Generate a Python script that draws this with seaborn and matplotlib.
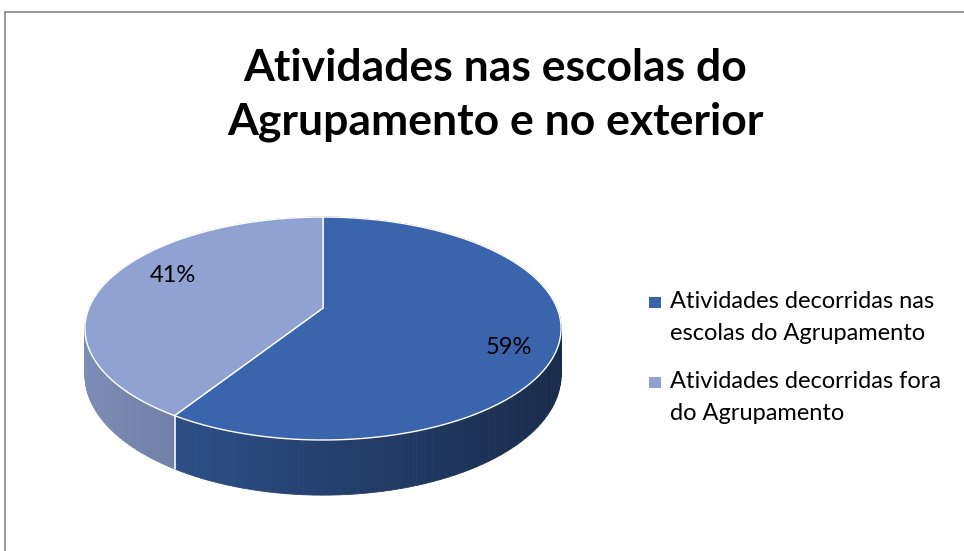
import numpy as np
import matplotlib
matplotlib.use("Agg")
import matplotlib.pyplot as plt
import seaborn as sns
from matplotlib.patches import Polygon, Rectangle
from matplotlib.lines import Line2D

# --- dados ---
categorias = ['Atividades decorridas nas\nescolas do Agrupamento',
              'Atividades decorridas fora\ndo Agrupamento']
valores = [59, 41]
rotulos = ['59%', '41%']
titulo = 'Atividades nas escolas do\nAgrupamento e no exterior'

sns.set_theme(style='white')
plt.rcParams['font.family'] = ['Lato', 'DejaVu Sans']
cores = sns.color_palette(['#3a64ac', '#8fa2d2'])

# --- projecao em perspectiva do disco (pixels) ---
cx, cy = 323, 308
sx, sy, k = 234, 107.7, 0.184
prof = 45
raio_rotulo = [0.82, 0.75]


def proj(phi, r=1.0):
    X = r * np.sin(phi)
    Y = r * np.cos(phi)
    d = 1 + k * Y
    return cx + sx * X / d, cy - sy * Y / d, prof / d


def sombra(x):
    return float(np.clip(0.87 - 0.00092 * (x - 85), 0.35, 1.0))


fig = plt.figure(figsize=(9.64, 5.51), dpi=100)
ax = fig.add_axes([0, 0, 1, 1])
ax.set_xlim(0, 964)
ax.set_ylim(551, 0)
ax.axis('off')

fracs = np.array(valores) / sum(valores)
limites = np.concatenate([[0], np.cumsum(fracs)]) * 2 * np.pi

# paredes laterais
quads = []
for i, cor in enumerate(cores):
    phis = np.linspace(limites[i], limites[i + 1], 120)
    x, y, d = proj(phis)
    for j in range(len(phis) - 1):
        pts = [(x[j], y[j]), (x[j + 1], y[j + 1]),
               (x[j + 1], y[j + 1] + d[j + 1]), (x[j], y[j] + d[j])]
        f = sombra((x[j] + x[j + 1]) / 2)
        c = tuple(v * f for v in cor)
        quads.append((np.cos((phis[j] + phis[j + 1]) / 2), pts, c))
quads.sort(key=lambda q: -q[0])
for _, pts, c in quads:
    ax.add_patch(Polygon(pts, closed=True, facecolor=c, edgecolor=c, lw=0.6, zorder=1))

# divisoes visiveis na parede
for a in limites[1:-1]:
    if np.cos(a) < 0:
        x, y, d = proj(a)
        ax.add_line(Line2D([x, x], [y, y + d], color='white', lw=1.2, zorder=2))

# faces superiores
for i, cor in enumerate(cores):
    phis = np.linspace(limites[i], limites[i + 1], 200)
    x, y, _ = proj(phis)
    pts = [(cx, cy)] + list(zip(x, y))
    ax.add_patch(Polygon(pts, closed=True, facecolor=cor, edgecolor='white', lw=1.0, zorder=3))

# rotulos de percentagem
for i, rot in enumerate(rotulos):
    meio = (limites[i] + limites[i + 1]) / 2 + 0.15
    x, y, _ = proj(meio, raio_rotulo[i])
    ax.text(x, y, rot, ha='center', va='center', fontsize=17, color='black', zorder=4)

# titulo
ax.text(495, 95, titulo, ha='center', va='center', fontsize=32, fontweight='bold',
        linespacing=1.42, color='black')

# legenda
for i, (cat, cor) in enumerate(zip(categorias, cores)):
    y0 = 297 + i * 80
    ax.add_patch(Rectangle((649, y0), 12, 11, facecolor=cor, edgecolor='none'))
    ax.text(670, y0 - 6, cat, ha='left', va='top', fontsize=17, linespacing=1.62, color='black')

# moldura
fig.add_artist(Line2D([5 / 964, 5 / 964], [0, 1 - 12 / 551], color='#868686', lw=1.2))
fig.add_artist(Line2D([5 / 964, 1], [1 - 12 / 551, 1 - 12 / 551], color='#868686', lw=1.2))

fig.savefig('out.png', dpi=100)
